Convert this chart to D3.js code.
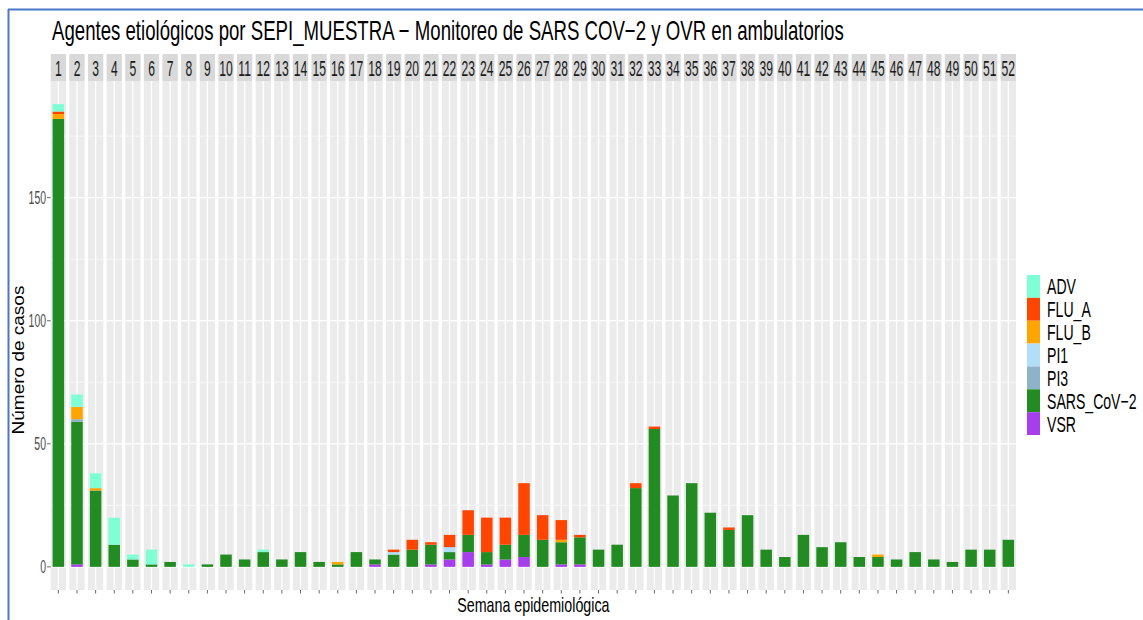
<!DOCTYPE html>
<html lang="es">
<head>
<meta charset="utf-8">
<title>Agentes etiológicos</title>
<script src="https://cdnjs.cloudflare.com/ajax/libs/d3/7.8.5/d3.min.js"></script>
<style>
  body { margin: 0; background: #fff; }
  text { font-family: "Liberation Sans", Arial, sans-serif; }
</style>
</head>
<body>
<script>
var weeks = d3.range(1, 53);
var agents = ["ADV", "FLU_A", "FLU_B", "PI1", "PI3", "SARS_CoV-2", "VSR"];
var agentLabels = ["ADV", "FLU_A", "FLU_B", "PI1", "PI3", "SARS_CoV\u22122", "VSR"];
var colors = ["#7fffd4", "#ff4500", "#ffa500", "#b0dff7", "#8db3c9", "#228b22", "#a63eeb"];

//            1   2   3   4  5  6  7  8  9 10 11 12 13 14 15 16 17 18 19 20 21 22 23 24 25 26 27 28 29 30 31 32 33 34 35 36 37 38 39 40 41 42 43 44 45 46 47 48 49 50 51 52
var adv  = [  3,  5,  6, 11, 2, 6, 0, 1, 0, 0, 0, 1, 0, 0, 0, 0, 0, 0, 0, 0, 0, 0, 0, 0, 0, 0, 0, 0, 0, 0, 0, 0, 0, 0, 0, 0, 0, 0, 0, 0, 0, 0, 0, 0, 0, 0, 0, 0, 0, 0, 0, 0];
var fluA = [  1,  0,  0,  0, 0, 0, 0, 0, 0, 0, 0, 0, 0, 0, 0, 0, 0, 0, 1, 4, 1, 5,10,14,11,21,10, 8, 1, 0, 0, 2, 1, 0, 0, 0, 1, 0, 0, 0, 0, 0, 0, 0, 0, 0, 0, 0, 0, 0, 0, 0];
var fluB = [  2,  5,  1,  0, 0, 0, 0, 0, 0, 0, 0, 0, 0, 0, 0, 1, 0, 0, 0, 0, 0, 0, 0, 0, 0, 0, 0, 1, 0, 0, 0, 0, 0, 0, 0, 0, 0, 0, 0, 0, 0, 0, 0, 0, 1, 0, 0, 0, 0, 0, 0, 0];
var pi1  = [  0,  0,  0,  0, 0, 0, 0, 0, 0, 0, 0, 0, 0, 0, 0, 0, 0, 0, 1, 0, 0, 2, 0, 0, 0, 0, 0, 0, 0, 0, 0, 0, 0, 0, 0, 0, 0, 0, 0, 0, 0, 0, 0, 0, 0, 0, 0, 0, 0, 0, 0, 0];
var pi3  = [  0,  1,  0,  0, 0, 0, 0, 0, 0, 0, 0, 0, 0, 0, 0, 0, 0, 0, 0, 0, 0, 0, 0, 0, 0, 0, 0, 0, 0, 0, 0, 0, 0, 0, 0, 0, 0, 0, 0, 0, 0, 0, 0, 0, 0, 0, 0, 0, 0, 0, 0, 0];
var sars = [182, 58, 31,  9, 3, 1, 2, 0, 1, 5, 3, 6, 3, 6, 2, 1, 6, 2, 5, 7, 8, 3, 7, 5, 6, 9,11, 9,11, 7, 9,32,56,29,34,22,15,21, 7, 4,13, 8,10, 4, 4, 3, 6, 3, 2, 7, 7,11];
var vsr  = [  0,  1,  0,  0, 0, 0, 0, 0, 0, 0, 0, 0, 0, 0, 0, 0, 0, 1, 0, 0, 1, 3, 6, 1, 3, 4, 0, 1, 1, 0, 0, 0, 0, 0, 0, 0, 0, 0, 0, 0, 0, 0, 0, 0, 0, 0, 0, 0, 0, 0, 0, 0];
var series = [adv, fluA, fluB, pi1, pi3, sars, vsr];
var yTicks = [0, 50, 100, 150];

var w = 1143, h = 620;
var stripTop = 54, panelTop = 81, panelBottom = 590;
var left = 50.7, right = 1016;

var svg = d3.select("body").append("svg")
    .attr("width", w)
    .attr("height", h);

// frame of the screenshot
svg.append("line").attr("x1", 8).attr("x2", w).attr("y1", 9.5).attr("y2", 9.5)
    .attr("stroke", "#4a78c9").attr("stroke-width", 2);
svg.append("line").attr("x1", 8.5).attr("x2", 8.5).attr("y1", 9).attr("y2", h)
    .attr("stroke", "#4a78c9").attr("stroke-width", 2);

function txt(x, y, s, size, sx, anchor, fill) {
  return svg.append("text")
      .attr("transform", "translate(" + x + "," + y + ") scale(" + sx + ",1)")
      .attr("text-anchor", anchor)
      .attr("font-size", size)
      .attr("fill", fill)
      .text(s);
}

var x = d3.scaleBand().domain(weeks).range([left, right]).paddingInner(0.177).paddingOuter(0);
var total = weeks.map(function(d, i) { return d3.sum(series, function(s) { return s[i]; }); });
var ymax = d3.max(total);
var y = d3.scaleLinear().domain([-ymax * 0.05, ymax * 1.05]).range([panelBottom, panelTop]);

// stacking: last agent at the bottom
var rows = weeks.map(function(wk, i) {
  var r = { week: wk };
  agents.forEach(function(a, k) { r[a] = series[k][i]; });
  return r;
});
var stack = d3.stack().keys(agents.slice().reverse())(rows);

var panels = svg.selectAll("g.panel").data(weeks).enter().append("g")
    .attr("class", "panel")
    .attr("transform", function(d) { return "translate(" + x(d) + ",0)"; });

var bw = x.bandwidth();

panels.append("rect").attr("x", 0).attr("y", stripTop).attr("width", bw)
    .attr("height", panelTop - stripTop).attr("fill", "#d9d9d9");
panels.append("rect").attr("x", 0).attr("y", panelTop).attr("width", bw)
    .attr("height", panelBottom - panelTop).attr("fill", "#ebebeb");

var minor = [25, 75, 125, 175];
panels.each(function() {
  var g = d3.select(this);
  minor.forEach(function(v) {
    g.append("line").attr("x1", 0).attr("x2", bw).attr("y1", y(v)).attr("y2", y(v))
        .attr("stroke", "#fff").attr("stroke-width", 0.6);
  });
  yTicks.forEach(function(v) {
    g.append("line").attr("x1", 0).attr("x2", bw).attr("y1", y(v)).attr("y2", y(v))
        .attr("stroke", "#fff").attr("stroke-width", 1.3);
  });
  g.append("line").attr("x1", bw / 2).attr("x2", bw / 2).attr("y1", panelTop).attr("y2", panelBottom)
      .attr("stroke", "#fff").attr("stroke-width", 1.3);
  g.append("line").attr("x1", bw / 2).attr("x2", bw / 2).attr("y1", panelBottom).attr("y2", panelBottom + 3.5)
      .attr("stroke", "#444").attr("stroke-width", 0.8);
});

panels.append("text")
    .attr("transform", "translate(" + (bw / 2) + ",76) scale(0.55,1)")
    .attr("text-anchor", "middle")
    .attr("font-size", 22)
    .attr("fill", "#1a1a1a")
    .text(function(d) { return d; });

// bars
var barW = bw * 0.75;
var colorOf = d3.scaleOrdinal().domain(agents).range(colors);
stack.forEach(function(layer) {
  layer.forEach(function(seg, i) {
    if (seg[1] - seg[0] <= 0) return;
    svg.append("rect")
        .attr("x", x(weeks[i]) + (bw - barW) / 2)
        .attr("width", barW)
        .attr("y", y(seg[1]))
        .attr("height", y(seg[0]) - y(seg[1]))
        .attr("fill", colorOf(layer.key));
  });
});

// y axis
yTicks.forEach(function(v) {
  txt(46, y(v) + 6.5, v, 19, 0.55, "end", "#4d4d4d");
  svg.append("line").attr("x1", 47).attr("x2", left).attr("y1", y(v)).attr("y2", y(v))
      .attr("stroke", "#444").attr("stroke-width", 0.8);
});

svg.append("text")
    .attr("transform", "translate(24,360) rotate(-90) scale(1,0.9)")
    .attr("text-anchor", "middle")
    .attr("font-size", 19)
    .attr("fill", "#000")
    .text("Número de casos");

txt((left + right) / 2, 612, "Semana epidemiológica", 21, 0.68, "middle", "#000");

// title squeezed to the width it has in the picture
var title = txt(52, 40, "Agentes etiológicos por SEPI_MUESTRA \u2212 Monitoreo de SARS COV\u22122 y OVR en ambulatorios", 27, 1, "start", "#000");
var tw = title.node().getComputedTextLength();
title.attr("transform", "translate(52,40) scale(" + (792 / tw) + ",1)");

// legend
var keyH = 22.86;
agents.forEach(function(a, k) {
  var ky = 275 + k * keyH;
  svg.append("rect").attr("x", 1027).attr("y", ky).attr("width", 13).attr("height", keyH)
      .attr("fill", colors[k]);
  txt(1047, ky + keyH / 2 + 8, agentLabels[k], 22, 0.64, "start", "#000");
});
</script>
</body>
</html>
